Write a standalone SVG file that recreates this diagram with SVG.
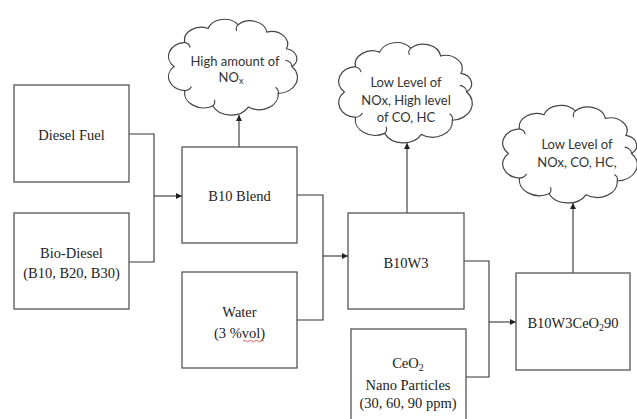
<svg xmlns="http://www.w3.org/2000/svg" width="637" height="419" viewBox="0 0 637 419">
<style>
.box{fill:#fff;stroke:#555;stroke-width:1.3}
.cloud{fill:#fff;stroke:#444;stroke-width:1.2}
.curl{fill:none;stroke:#444;stroke-width:1.1}
.conn{fill:none;stroke:#333;stroke-width:1.1}
.t{font-family:"Liberation Serif","Times New Roman",serif;font-size:14.5px;fill:#222;text-anchor:middle}
.c{font-family:Lato,"Open Sans","Liberation Sans",Arial,sans-serif;font-size:13px;fill:#333;text-anchor:middle}
</style>
<defs>
<marker id="ah" markerWidth="7" markerHeight="6" refX="6" refY="3" orient="auto" markerUnits="userSpaceOnUse">
<path d="M0,0 L6,3 L0,6 Z" fill="#222"/>
</marker>
<path id="cloudShape" vector-effect="non-scaling-stroke" d="M94,50 A15.3,15.3 0 0 1 83.7,75.7 A14.3,14.3 0 0 1 61.4,88.6 A14.8,14.8 0 0 1 35,87.6 A14.3,14.3 0 0 1 14,73 A13.4,13.4 0 0 1 6,50 A13.4,13.4 0 0 1 14,27 A12.3,12.3 0 0 1 31.4,13.8 A12.8,12.8 0 0 1 53.8,10.2 A12.7,12.7 0 0 1 75.3,17.2 A12,12 0 0 1 89.9,33.1 A9.6,9.6 0 0 1 94,50 Z"/>
<path id="cloudCurls" vector-effect="non-scaling-stroke" d="M94,50 a6,6 0 0 0 -5,-6 M35,87.6 a6,6 0 0 0 1,-6 M14,73 a6,6 0 0 0 5,-4 M53.8,10.2 a6,6 0 0 0 -1,6 M14,27 a6,6 0 0 1 4,5 M83.7,75.7 a6,6 0 0 0 -2,-6"/>
</defs>
<g id="connectors">
<path class="conn" d="M129,134 H154 V262 H129"/>
<path class="conn" d="M154,196 H182" marker-end="url(#ah)"/>
<path class="conn" d="M297,195 H323 V320 H297"/>
<path class="conn" d="M323,256 H348" marker-end="url(#ah)"/>
<path class="conn" d="M464,261 H489 V377 H466"/>
<path class="conn" d="M489,322 H516" marker-end="url(#ah)"/>
<path class="conn" d="M239,147 V115" marker-end="url(#ah)"/>
<path class="conn" d="M407,213 V143" marker-end="url(#ah)"/>
<path class="conn" d="M573,273 V203" marker-end="url(#ah)"/>
</g>
<g id="diesel">
<rect class="box" x="14" y="85" width="115" height="97"/>
<text class="t" x="71.5" y="140">Diesel Fuel</text>
</g>
<g id="biodiesel">
<rect class="box" x="14" y="213" width="115" height="96"/>
<text class="t" x="71.5" y="258">Bio-Diesel</text>
<text class="t" x="71.5" y="278">(B10, B20, B30)</text>
</g>
<g id="b10blend">
<rect class="box" x="182" y="147" width="115" height="96"/>
<text class="t" x="239.5" y="201">B10 Blend</text>
</g>
<g id="water">
<rect class="box" x="182" y="272" width="115" height="96"/>
<text class="t" x="239.5" y="317">Water</text>
<text class="t" x="239.5" y="338">(3 %vol)</text>
<path d="M243,341 q1.5,-1.5 3,0 t3,0 t3,0 t3,0 t3,0 t3,0 t3,0" fill="none" stroke="#d33" stroke-width="0.8"/>
</g>
<g id="b10w3">
<rect class="box" x="348" y="213" width="116" height="96"/>
<text class="t" x="406" y="268">B10W3</text>
</g>
<g id="ceo2">
<rect class="box" x="351" y="329" width="115" height="100"/>
<text class="t" x="408" y="368">CeO<tspan font-size="10" dy="3">2</tspan></text>
<text class="t" x="408" y="390">Nano Particles</text>
<text class="t" x="408" y="408">(30, 60, 90 ppm)</text>
</g>
<g id="b10w3ceo290">
<rect class="box" x="516" y="273" width="114" height="97"/>
<text class="t" x="573" y="328">B10W3CeO<tspan font-size="10" dy="3">2</tspan><tspan dy="-3">90</tspan></text>
</g>
<g id="cloud1">
<use href="#cloudShape" class="cloud" transform="translate(166,14) scale(1.34,1.05)"/>
<use href="#cloudCurls" class="curl" transform="translate(166,14) scale(1.34,1.05)"/>
<text class="c" x="235" y="66">High amount of</text>
<text class="c" x="231" y="82">NO<tspan font-size="9" dy="2">x</tspan></text>
</g>
<g id="cloud2">
<use href="#cloudShape" class="cloud" transform="translate(336,37) scale(1.39,1.1)"/>
<use href="#cloudCurls" class="curl" transform="translate(336,37) scale(1.39,1.1)"/>
<text class="c" x="406" y="87">Low Level of</text>
<text class="c" x="406" y="105">NOx, High level</text>
<text class="c" x="406" y="122">of CO, HC</text>
</g>
<g id="cloud3">
<use href="#cloudShape" class="cloud" transform="translate(500,100) scale(1.4,1.07)"/>
<use href="#cloudCurls" class="curl" transform="translate(500,100) scale(1.4,1.07)"/>
<text class="c" x="577" y="149">Low Level of</text>
<text class="c" x="577" y="167">NOx, CO, HC,</text>
</g>
</svg>
